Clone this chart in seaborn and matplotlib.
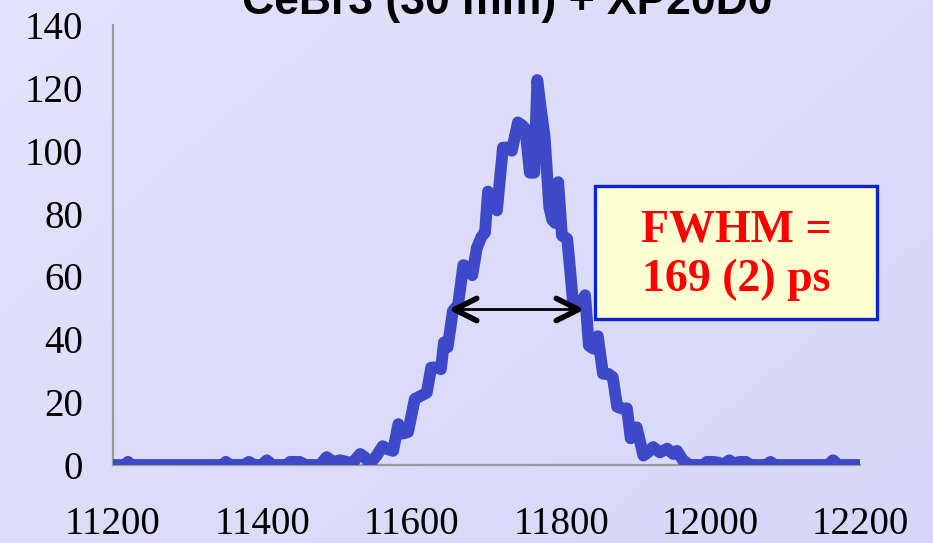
import numpy as np
import matplotlib
matplotlib.use("Agg")
import matplotlib.pyplot as plt
from matplotlib.path import Path
from matplotlib.markers import MarkerStyle
from matplotlib.patches import Rectangle
import seaborn as sns
import pandas as pd

# Timing spectrum: time (ps) vs counts
time_ps = [11200, 11215, 11220, 11225, 11346, 11351, 11357, 11375, 11382, 11389,
           11399, 11406, 11413, 11432, 11437, 11445, 11450, 11457, 11477, 11486,
           11495, 11504, 11513, 11520, 11531, 11537, 11544, 11553, 11561, 11568,
           11575, 11582, 11588, 11595, 11604, 11612, 11620, 11626, 11634, 11639,
           11643, 11648, 11655, 11662, 11669, 11675, 11681, 11687, 11693, 11698,
           11702, 11709, 11714, 11722, 11729, 11734, 11742, 11748, 11752, 11758,
           11764, 11768, 11773, 11778, 11784, 11788, 11792, 11796, 11801, 11808,
           11812, 11816, 11821, 11825, 11832, 11837, 11843, 11849, 11856, 11863,
           11869, 11875, 11881, 11888, 11893, 11901, 11910, 11916, 11923, 11932,
           11942, 11950, 11955, 11963, 11972, 11990, 11995, 12003, 12010, 12016,
           12025, 12031, 12039, 12047, 12054, 12074, 12080, 12086, 12157, 12164,
           12171, 12200]
counts = [0, 0, 1, 0, 0, 1, 0, 0, 1, 0,
          0, 1.5, 0, 0, 1, 1, 1, 0, 0, 2.5,
          1, 1.5, 1, 0.5, 3.5, 2.5, 0.5, 3, 6, 5,
          4.5, 13, 10, 10.5, 21, 22, 23, 31, 31, 30.5,
          39, 37.5, 49, 51, 63.6, 63, 60.4, 69, 72.5, 74,
          87, 85, 81, 101, 101, 100, 109, 108, 107, 93,
          93, 122.5, 113, 104, 82, 78, 77, 90, 73, 72,
          62, 51, 52, 51, 54, 38, 37, 41, 29, 29,
          28, 18.5, 18, 18, 8.5, 12, 3, 4, 5.7, 4,
          5.2, 3.5, 4.5, 1.5, 0, 0, 1, 1, 0.8, 0,
          1.5, 0.5, 1, 1, 0, 0, 1, 0, 0, 1.5,
          0, 0]

x_ticks = [11200, 11400, 11600, 11800, 12000, 12200]
y_ticks = [0, 20, 40, 60, 80, 100, 120, 140]

title_text = "CeBr3 (30 mm) + XP20D0"
fwhm_text = "FWHM =\n169 (2) ps"
fwhm_left, fwhm_right, fwhm_level = 11657, 11822, 49.5

df = pd.DataFrame({"time": time_ps, "counts": counts})

sns.set_theme(style="white")
plt.rcParams["font.family"] = ["Liberation Serif", "DejaVu Serif"]

fig = plt.figure(figsize=(9.33, 5.43), dpi=100)

# soft lavender gradient behind everything
bg = fig.add_axes([0, 0, 1, 1], zorder=-5)
gx, gy = np.meshgrid(np.linspace(0, 1, 200), np.linspace(0, 1, 120))
g = (gx * 0.6 + gy * 0.4)
c0 = np.array([227, 227, 253]) / 255.0
c1 = np.array([214, 214, 248]) / 255.0
img = c0[None, None, :] * (1 - g[..., None]) + c1[None, None, :] * g[..., None]
bg.imshow(img, aspect="auto", extent=[0, 1, 0, 1], origin="upper")
bg.set_axis_off()

ax = fig.add_axes([113 / 933, 78 / 543, 747 / 933, 440 / 543])
ax.set_facecolor("none")

sns.lineplot(data=df, x="time", y="counts", ax=ax, color="#3D49C9",
             linewidth=8.5, estimator=None, sort=False,
             solid_capstyle="round", solid_joinstyle="round", zorder=3)

ax.set_xlim(11200, 12200)
ax.set_ylim(0, 140)
ax.set_xticks(x_ticks)
ax.set_yticks(y_ticks)
ax.set_xlabel("")
ax.set_ylabel("")

for side in ("top", "right"):
    ax.spines[side].set_visible(False)
for side in ("left", "bottom"):
    ax.spines[side].set_color("#9A9A9A")
    ax.spines[side].set_linewidth(1.6)
    ax.spines[side].set_zorder(2)

ax.tick_params(axis="both", colors="#9A9A9A", length=7.5, width=1.6,
               direction="out", labelcolor="black", labelsize=28)
ax.tick_params(axis="x", pad=22)
ax.tick_params(axis="y", pad=14)
ax.set_xticklabels([str(v) for v in x_ticks])
ax.set_yticklabels([str(v) for v in y_ticks])

# FWHM double arrow: thin shaft plus open chevron heads
ax.plot([fwhm_left, fwhm_right], [fwhm_level, fwhm_level], color="black",
        linewidth=2.0, zorder=4, solid_capstyle="butt")
left_head = Path([(1, 0.5), (0, 0), (1, -0.5)],
                 [Path.MOVETO, Path.LINETO, Path.LINETO])
right_head = Path([(-1, 0.5), (0, 0), (-1, -0.5)],
                  [Path.MOVETO, Path.LINETO, Path.LINETO])
for head, xpos in ((left_head, fwhm_left), (right_head, fwhm_right)):
    ms = MarkerStyle(head, fillstyle="none", capstyle="round", joinstyle="miter")
    ax.plot([xpos], [fwhm_level], marker=ms, markersize=32, markeredgewidth=4.0,
            color="black", linestyle="none", zorder=5)

# result box
box = Rectangle(((595 - 113) / 747, (465 - 319) / 440),
                (877 - 595) / 747, (319 - 186) / 440, transform=ax.transAxes,
                facecolor="#FFFFD4", edgecolor="#0B24CF", linewidth=2.4,
                clip_on=False, zorder=6)
ax.add_patch(box)
ax.text((736 - 113) / 747, (465 - 255) / 440, fwhm_text, transform=ax.transAxes,
        ha="center", va="center", color="#FF0000", fontsize=33,
        fontweight="bold", linespacing=1.22, zorder=7)

fig.text(507 / 933, 1 - 14 / 543, title_text, ha="center", va="baseline",
         fontsize=32, fontweight="bold", color="black",
         family=["Liberation Sans", "DejaVu Sans"])

fig.savefig("out.png", dpi=100)
